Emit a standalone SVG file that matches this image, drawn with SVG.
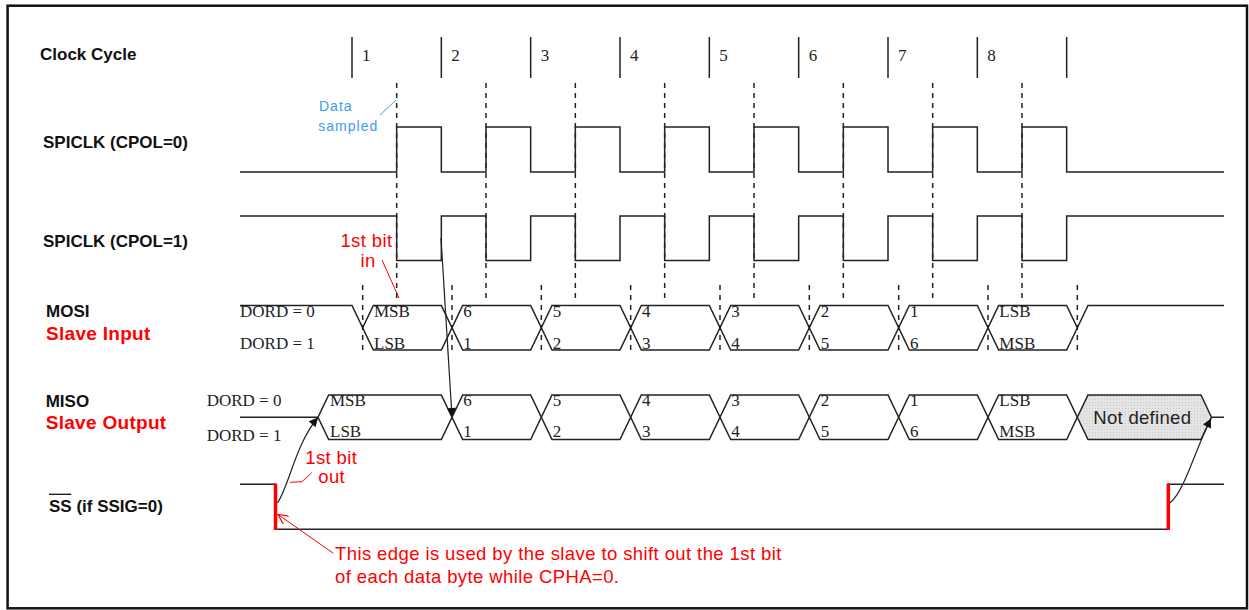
<svg xmlns="http://www.w3.org/2000/svg" width="1249" height="610" viewBox="0 0 1249 610">
<defs>
<style>
.lbl{font-family:"Liberation Sans",Arial,sans-serif;font-weight:bold;font-size:17px;fill:#111}
.red{font-family:"Liberation Sans",Arial,sans-serif;font-weight:bold;font-size:19px;fill:#ff0000;letter-spacing:0.3px}
.ser{font-family:"Liberation Serif","Times New Roman",serif;font-size:17px;fill:#222}
.note{font-family:"Liberation Sans",Arial,sans-serif;font-size:18.5px;fill:#ff0000;letter-spacing:0.4px}
.blue{font-family:"Liberation Sans",Arial,sans-serif;font-size:14px;fill:#3d9bf5;letter-spacing:1px}
.wave{fill:none;stroke:#222;stroke-width:1.5}
.tick{stroke:#222;stroke-width:1.5}
.dash{stroke:#222;stroke-width:1.5;stroke-dasharray:5,5}
.edge{stroke:#ff0000;stroke-width:3.5}
.arr{fill:none;stroke:#222;stroke-width:1.2}
</style>
<marker id="ah" viewBox="0 0 10 10" refX="10" refY="5" markerWidth="11" markerHeight="9" markerUnits="userSpaceOnUse" orient="auto">
<path d="M0,0 L10,5 L0,10 Z" fill="#111"/>
</marker>
<marker id="ahr" viewBox="0 0 10 10" refX="10" refY="5" markerWidth="12" markerHeight="10" markerUnits="userSpaceOnUse" orient="auto">
<path d="M0,0 L10,5 L0,10" fill="none" stroke="#ff0000" stroke-width="1.2"/>
</marker>
<pattern id="dots" width="3" height="3" patternUnits="userSpaceOnUse">
<rect width="3" height="3" fill="#e4e4e4"/>
<rect width="1" height="1" fill="#c8c8c8"/>
</pattern>
</defs>
<rect x="0" y="0" width="1249" height="610" fill="#ffffff"/>
<rect id="frame" x="7.6" y="5.7" width="1239.4" height="602.6" fill="none" stroke="#111" stroke-width="2.5"/>

<g id="clock-cycle">
<text class="lbl" x="40" y="60">Clock Cycle</text>
<g class="tick">
<line x1="352" y1="37" x2="352" y2="78"/>
<line x1="441.33" y1="37" x2="441.33" y2="78"/>
<line x1="530.67" y1="37" x2="530.67" y2="78"/>
<line x1="620" y1="37" x2="620" y2="78"/>
<line x1="709.33" y1="37" x2="709.33" y2="78"/>
<line x1="798.67" y1="37" x2="798.67" y2="78"/>
<line x1="888" y1="37" x2="888" y2="78"/>
<line x1="977.33" y1="37" x2="977.33" y2="78"/>
<line x1="1066.67" y1="37" x2="1066.67" y2="78"/>
</g>
<g class="ser">
<text x="362" y="61">1</text>
<text x="451.33" y="61">2</text>
<text x="540.67" y="61">3</text>
<text x="630" y="61">4</text>
<text x="719.33" y="61">5</text>
<text x="808.67" y="61">6</text>
<text x="898" y="61">7</text>
<text x="987.33" y="61">8</text>
</g>
</g>

<g id="sample-lines" class="dash">
<line x1="396.67" y1="83" x2="396.67" y2="298"/>
<line x1="486" y1="83" x2="486" y2="298"/>
<line x1="575.33" y1="83" x2="575.33" y2="298"/>
<line x1="664.67" y1="83" x2="664.67" y2="298"/>
<line x1="754" y1="83" x2="754" y2="298"/>
<line x1="843.33" y1="83" x2="843.33" y2="298"/>
<line x1="932.67" y1="83" x2="932.67" y2="298"/>
<line x1="1022" y1="83" x2="1022" y2="298"/>
</g>

<g id="spiclk-cpol0">
<text class="lbl" x="43" y="148">SPICLK (CPOL=0)</text>
<path class="wave" d="M240,172 H396.67 V127 H441.33 V172 H486 V127 H530.67 V172 H575.33 V127 H620 V172 H664.67 V127 H709.33 V172 H754 V127 H798.67 V172 H843.33 V127 H888 V172 H932.67 V127 H977.33 V172 H1022 V127 H1066.67 V172 H1224"/>
<text class="blue" x="319" y="111">Data</text>
<text class="blue" x="318.3" y="130.7">sampled</text>
<line x1="380" y1="115" x2="396" y2="100" stroke="#3d9bf5" stroke-width="1"/>
</g>

<g id="spiclk-cpol1">
<text class="lbl" x="43" y="247">SPICLK (CPOL=1)</text>
<path class="wave" d="M240,216 H396.67 V260.5 H441.33 V216 H486 V260.5 H530.67 V216 H575.33 V260.5 H620 V216 H664.67 V260.5 H709.33 V216 H754 V260.5 H798.67 V216 H843.33 V260.5 H888 V216 H932.67 V260.5 H977.33 V216 H1022 V260.5 H1066.67 V216 H1224"/>
<text class="note" x="366.5" y="246.7" text-anchor="middle">1st bit</text>
<text class="note" x="368" y="267.3" text-anchor="middle">in</text>
<line x1="382" y1="260" x2="399" y2="298" stroke="#ff0000" stroke-width="1"/>
</g>

<g id="mosi">
<text class="lbl" x="46" y="317">MOSI</text>
<text class="red" x="46" y="340">Slave Input</text>
<text class="ser" x="240" y="317">DORD = 0</text>
<text class="ser" x="240" y="348.5">DORD = 1</text>
<path class="wave" d="M240,305.5 H352 L373.33,350 H441.33 L462.67,305.5 H530.67 L552,350 H620 L641.33,305.5 H709.33 L730.67,350 H798.67 L820,305.5 H888 L909.33,350 H977.33 L998.67,305.5 H1066.67 L1077.33,327.75 L1088,305.5 H1224"/>
<path class="wave" d="M362.67,327.75 L373.33,305.5 H441.33 L462.67,350 H530.67 L552,305.5 H620 L641.33,350 H709.33 L730.67,305.5 H798.67 L820,350 H888 L909.33,305.5 H977.33 L998.67,350 H1066.67 L1077.33,327.75"/>
<g class="dash">
<line x1="362.67" y1="285" x2="362.67" y2="352"/>
<line x1="452" y1="285" x2="452" y2="352"/>
<line x1="541.33" y1="285" x2="541.33" y2="352"/>
<line x1="630.67" y1="285" x2="630.67" y2="352"/>
<line x1="720" y1="285" x2="720" y2="352"/>
<line x1="809.33" y1="285" x2="809.33" y2="352"/>
<line x1="898.67" y1="285" x2="898.67" y2="352"/>
<line x1="988" y1="285" x2="988" y2="352"/>
<line x1="1077.33" y1="285" x2="1077.33" y2="352"/>
</g>
<g class="ser">
<text x="374" y="317">MSB</text>
<text x="463.33" y="317">6</text>
<text x="552.67" y="317">5</text>
<text x="642" y="317">4</text>
<text x="731.33" y="317">3</text>
<text x="820.67" y="317">2</text>
<text x="910" y="317">1</text>
<text x="999.33" y="317">LSB</text>
<text x="374" y="348.5">LSB</text>
<text x="463.33" y="348.5">1</text>
<text x="552.67" y="348.5">2</text>
<text x="642" y="348.5">3</text>
<text x="731.33" y="348.5">4</text>
<text x="820.67" y="348.5">5</text>
<text x="910" y="348.5">6</text>
<text x="999.33" y="348.5">MSB</text>
</g>
</g>

<g id="miso">
<text class="lbl" x="45.7" y="407">MISO</text>
<text class="red" x="45.7" y="428.5">Slave Output</text>
<text class="ser" x="206.7" y="406">DORD = 0</text>
<text class="ser" x="206.7" y="440.5">DORD = 1</text>
<polygon points="1077.33,417.25 1088,395 1201,395 1211.5,417.25 1201,439.5 1088,439.5" fill="url(#dots)" stroke="none"/>
<path class="wave" d="M240,417.25 H318 L328.67,395 H441.33 L462.67,439.5 H530.67 L552,395 H620 L641.33,439.5 H709.33 L730.67,395 H798.67 L820,439.5 H888 L909.33,395 H977.33 L998.67,439.5 H1066.67 L1088,395 H1201 L1211.5,417.25 H1224"/>
<path class="wave" d="M318,417.25 L328.67,439.5 H441.33 L462.67,395 H530.67 L552,439.5 H620 L641.33,395 H709.33 L730.67,439.5 H798.67 L820,395 H888 L909.33,439.5 H977.33 L998.67,395 H1066.67 L1088,439.5 H1201 L1211.5,417.25"/>
<g class="ser">
<text x="330" y="406">MSB</text>
<text x="463.33" y="406">6</text>
<text x="552.67" y="406">5</text>
<text x="642" y="406">4</text>
<text x="731.33" y="406">3</text>
<text x="820.67" y="406">2</text>
<text x="910" y="406">1</text>
<text x="999.33" y="406">LSB</text>
<text x="330" y="437">LSB</text>
<text x="463.33" y="437">1</text>
<text x="552.67" y="437">2</text>
<text x="642" y="437">3</text>
<text x="731.33" y="437">4</text>
<text x="820.67" y="437">5</text>
<text x="910" y="437">6</text>
<text x="999.33" y="437">MSB</text>
</g>
<text x="1093.3" y="424" font-family="Liberation Sans, Arial, sans-serif" font-size="18.5" fill="#222" letter-spacing="0.3">Not defined</text>
</g>

<g id="ss">
<text class="lbl" x="49" y="511.7">SS (if SSIG=0)</text>
<line x1="49" y1="494.3" x2="71.3" y2="494.3" stroke="#111" stroke-width="1.3"/>
<path class="wave" d="M240,484.3 H275.5 V529.3 H1168.3 V484.3 H1224"/>
<line class="edge" x1="275.5" y1="483.5" x2="275.5" y2="530"/>
<line class="edge" x1="1168.3" y1="483.5" x2="1168.3" y2="530"/>
<text class="note" x="331.3" y="463.5" text-anchor="middle">1st bit</text>
<text class="note" x="331.7" y="482.5" text-anchor="middle">out</text>
<polyline points="290,482.3 302,481.7 311.7,472.7" fill="none" stroke="#ff0000" stroke-width="1"/>
<text class="note" x="335" y="560">This edge is used by the slave to shift out the 1st bit</text>
<text class="note" x="335" y="583">of each data byte while CPHA=0.</text>
</g>

<g id="connectors">
<path class="arr" d="M277.5,503 C289,486 296,443 318,417.5" marker-end="url(#ah)"/>
<path class="arr" d="M441,238 Q447,330 452,417" marker-end="url(#ah)"/>
<path class="arr" d="M1170,503 C1185,490 1195,450 1211,418.5" marker-end="url(#ah)"/>
<line x1="333.3" y1="553.3" x2="278" y2="514.5" stroke="#ff0000" stroke-width="1" marker-end="url(#ahr)"/>
</g>
</svg>
